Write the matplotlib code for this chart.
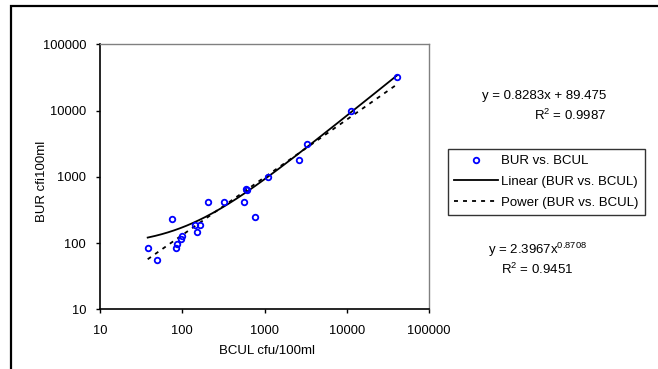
import numpy as np
import matplotlib
matplotlib.use("Agg")
import matplotlib.pyplot as plt
from matplotlib.patches import Rectangle
from matplotlib.lines import Line2D

plt.rcParams['font.family'] = ['Liberation Sans', 'DejaVu Sans']
plt.rcParams['mathtext.fontset'] = 'custom'
plt.rcParams['mathtext.rm'] = 'Liberation Sans'

# Data (BCUL cfu/100ml vs BUR cfi100ml)
bcul = [38, 50, 75, 86, 85, 98, 97, 141, 152, 164, 203, 322, 560, 603, 615, 762, 1109, 2649, 3252, 11270, 41000]
bur = [84, 56, 228, 98, 84, 128, 116, 187, 148, 187, 412, 412, 412, 655, 640, 247, 990, 1774, 3160, 9950, 32400]

lin_slope, lin_int = 0.8283, 89.475
pow_coef, pow_exp = 2.3967, 0.8708

xticks = [10, 100, 1000, 10000, 100000]
yticks = [10, 100, 1000, 10000, 100000]
tick_labels = ['10', '100', '1000', '10000', '100000']

W, H = 658, 369
fig = plt.figure(figsize=(W / 100, H / 100), dpi=100)

# outer border (partial frame)
fig.add_artist(Rectangle((11 / W, -0.1), 1.2, 1 - 6 / H + 0.1, transform=fig.transFigure,
                         fill=False, edgecolor='black', linewidth=1.6))

ax = fig.add_axes([100 / W, 1 - 309.3 / H, (429 - 100) / W, (309.3 - 44.3) / H])
ax.set_xscale('log')
ax.set_yscale('log')
ax.set_xlim(10, 100000)
ax.set_ylim(10, 100000)

xs = np.array(bcul, dtype=float)
xfit = np.logspace(np.log10(xs.min()), np.log10(xs.max()), 200)
ax.plot(xfit, lin_slope * xfit + lin_int, color='black', lw=1.3, zorder=2)
ax.plot(xfit, pow_coef * xfit ** pow_exp, color='black', lw=1.3, ls=(0, (2.2, 2.8)), zorder=2)
ax.plot(bcul, bur, ls='none', marker='o', ms=4, mfc='none', mec='#0000ff', mew=1.3, zorder=3)

ax.xaxis.set_major_locator(matplotlib.ticker.FixedLocator(xticks))
ax.yaxis.set_major_locator(matplotlib.ticker.FixedLocator(yticks))
ax.xaxis.set_minor_locator(matplotlib.ticker.NullLocator())
ax.yaxis.set_minor_locator(matplotlib.ticker.NullLocator())
ax.set_xticklabels(tick_labels)
ax.set_yticklabels(tick_labels)
ax.tick_params(axis='both', which='major', direction='out', length=3, width=1,
               labelsize=9.3, color='black')
ax.tick_params(axis='x', pad=8)
ax.tick_params(axis='y', pad=7)

for s in ['left', 'bottom']:
    ax.spines[s].set_color('black')
    ax.spines[s].set_linewidth(1.2)
for s in ['top', 'right']:
    ax.spines[s].set_color('#808080')
    ax.spines[s].set_linewidth(1.0)

# axis titles
fig.text(267 / W, 1 - 351 / H, 'BCUL cfu/100ml', ha='center', va='center', fontsize=9.5)
fig.text(42 / W, 1 - 181 / H, 'BUR cfi100ml', ha='center', va='center', rotation=90, fontsize=9.5)

# equations
fig.text(606 / W, 1 - 95.7 / H, 'y = 0.8283x + 89.475', ha='right', va='center', fontsize=9.5)
fig.text(606 / W, 1 - 115 / H, 'R$^{2}$ = 0.9987', ha='right', va='center', fontsize=9.5)
fig.text(537 / W, 1 - 250 / H, 'y = 2.3967x$^{0.8708}$', ha='center', va='center', fontsize=9.5)
fig.text(537 / W, 1 - 269 / H, 'R$^{2}$ = 0.9451', ha='center', va='center', fontsize=9.5)

handles = [
    Line2D([], [], ls='none', marker='o', ms=4, mfc='none', mec='#0000ff', mew=1.3),
    Line2D([], [], color='black', lw=1.3),
    Line2D([], [], color='black', lw=1.3, ls=(0, (2.2, 2.8))),
]
labels = ['BUR vs. BCUL', 'Linear (BUR vs. BCUL)', 'Power (BUR vs. BCUL)']
leg = fig.legend(handles, labels, loc='upper left', bbox_to_anchor=(448 / W, 1 - 149 / H),
                 fontsize=9.5, frameon=True, fancybox=False, edgecolor='black',
                 handlelength=3.35, handletextpad=0.25, labelspacing=0.65,
                 borderpad=0.45, borderaxespad=0, numpoints=1)
leg.get_frame().set_linewidth(1.0)

fig.savefig('out.png', dpi=100)
